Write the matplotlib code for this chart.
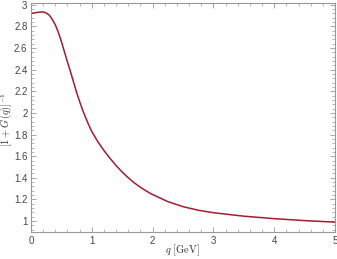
import numpy as np
import matplotlib
matplotlib.use("Agg")
import matplotlib.pyplot as plt
from matplotlib.ticker import MultipleLocator

# values
q = [0.0, 0.1, 0.2, 0.25, 0.3, 0.35, 0.4, 0.45, 0.5, 0.55, 0.6, 0.65, 0.7,
     0.75, 0.8, 0.85, 0.9, 0.95, 1.0, 1.1, 1.2, 1.3, 1.4, 1.5, 1.6, 1.7,
     1.8, 1.9, 2.0, 2.25, 2.5, 2.75, 3.0, 3.5, 4.0, 4.5, 5.0]
Ginv = [2.92, 2.93, 2.935, 2.925, 2.905, 2.865, 2.815, 2.745, 2.66, 2.565,
        2.47, 2.38, 2.285, 2.19, 2.105, 2.025, 1.955, 1.888, 1.828, 1.733, 1.652,
        1.58, 1.513, 1.453, 1.40, 1.353, 1.312, 1.276, 1.245, 1.18, 1.133,
        1.10, 1.077, 1.045, 1.022, 1.004, 0.99]

plt.rcParams['mathtext.fontset'] = 'cm'
plt.rcParams['font.family'] = ['Liberation Sans', 'DejaVu Sans']

fig = plt.figure(figsize=(3.37, 2.59), dpi=100)
ax = fig.add_axes([0.092, 0.104, 0.902, 0.884])

ax.plot(q, Ginv, color='#a51c30', lw=1.1)

ax.set_xlim(0, 5)
ax.set_ylim(0.898, 3.016)
ax.xaxis.set_major_locator(MultipleLocator(1))
ax.xaxis.set_minor_locator(MultipleLocator(0.2))
ax.yaxis.set_minor_locator(MultipleLocator(0.04))

gray = '#999999'
for s in ax.spines.values():
    s.set_color(gray)
    s.set_linewidth(0.8)
ax.tick_params(which='both', direction='in', top=True, right=True, color=gray,
               labelsize=7, labelcolor='#444444', pad=2.5)
ax.tick_params(which='major', length=3.5, width=0.6)
ax.tick_params(which='minor', length=2, width=0.5)
ax.set_yticks([1, 1.2, 1.4, 1.6, 1.8, 2, 2.2, 2.4, 2.6, 2.8, 3])
ax.set_yticklabels(['1', '1.2', '1.4', '1.6', '1.8', '2', '2.2', '2.4', '2.6', '2.8', '3'])

fig.text(182 / 337, 1 - 250 / 259, r'$q\ \mathrm{[GeV]}$', fontsize=7.5,
         ha='center', va='center', color='#333333')
fig.text(6.5 / 337, 1 - 120 / 259, r'$[1+G(q)]^{-1}$', fontsize=7.5, rotation=90,
         ha='center', va='center', color='#333333')

fig.savefig('out.png', dpi=100)
